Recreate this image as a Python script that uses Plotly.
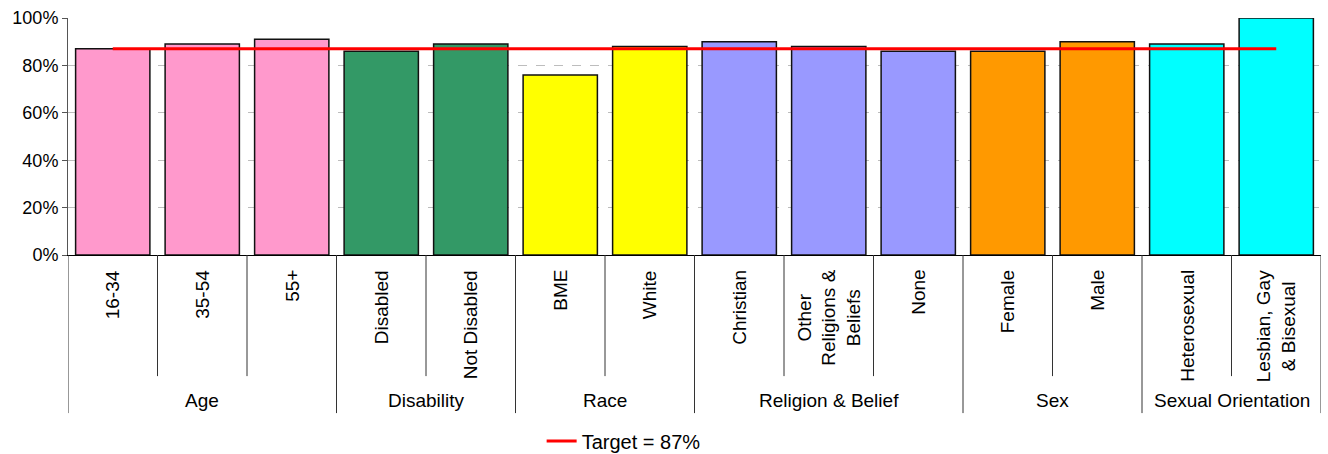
import plotly.graph_objects as go

# Survey results by equality group
groups = ["Age", "Disability", "Race", "Religion & Belief", "Sex", "Sexual Orientation"]
group_sizes = [3, 2, 2, 3, 2, 2]
group_colors = ["#FF99CC", "#339966", "#FFFF00", "#9999FF", "#FF9900", "#00FFFF"]

categories = ["16-34", "35-54", "55+",
              "Disabled", "Not Disabled",
              "BME", "White",
              "Christian", "Other<br>Religions &<br>Beliefs", "None",
              "Female", "Male",
              "Heterosexual", "Lesbian, Gay<br>& Bisexual"]
values = [0.87, 0.89, 0.91,
          0.86, 0.89,
          0.76, 0.88,
          0.90, 0.88, 0.86,
          0.86, 0.90,
          0.89, 1.00]
target = 0.87
target_label = "Target = 87%"

FONT = "Liberation Sans, Arial, sans-serif"

xs = list(range(len(categories)))
bar_colors = []
for color, size in zip(group_colors, group_sizes):
    bar_colors += [color] * size

fig = go.Figure()
fig.add_trace(go.Bar(
    x=xs, y=values, width=0.83,
    marker=dict(color=bar_colors, line=dict(color="#111111", width=1.5)),
    showlegend=False, hoverinfo="y",
))
fig.add_trace(go.Scatter(
    x=xs, y=[target] * len(xs), mode="lines",
    line=dict(color="#FF0000", width=3),
    name=target_label, showlegend=True,
))

annotations = []
shapes = []

# Category labels, rotated, under each bar
for i, lab in enumerate(categories):
    annotations.append(dict(
        x=i, xref="x", y=-0.055, yref="paper",
        text=lab, textangle=-90, showarrow=False,
        xanchor="center", yanchor="top", align="center",
        font=dict(family=FONT, size=19, color="#000000"),
    ))

# Group labels and divider lines
start = 0
boundaries = {-0.5}
for g, size in zip(groups, group_sizes):
    annotations.append(dict(
        x=start + (size - 1) / 2, xref="x", y=-0.616, yref="paper",
        text=g, showarrow=False, xanchor="center", yanchor="middle",
        font=dict(family=FONT, size=19, color="#000000"),
    ))
    start += size
    boundaries.add(start - 0.5)

for k in range(len(categories) + 1):
    xb = k - 0.5
    bottom = -0.667 if xb in boundaries else -0.511
    shapes.append(dict(
        type="line", xref="x", yref="paper",
        x0=xb, x1=xb, y0=0, y1=bottom,
        line=dict(color="#333333", width=1),
    ))

fig.update_layout(
    width=1328, height=454,
    margin=dict(l=68, r=7, t=18, b=199, autoexpand=False),
    paper_bgcolor="white", plot_bgcolor="white",
    font=dict(family=FONT, size=18, color="#000000"),
    bargap=0.17,
    xaxis=dict(
        range=[-0.5, len(categories) - 0.5],
        showticklabels=False, ticks="", showgrid=False, zeroline=False,
        showline=True, linecolor="#000000", linewidth=1,
        fixedrange=True,
    ),
    yaxis=dict(
        range=[0, 1], tickvals=[0, 0.2, 0.4, 0.6, 0.8, 1.0],
        tickformat=".0%", ticks="outside", ticklen=5, tickcolor="#555555",
        showline=True, linecolor="#555555", linewidth=1,
        showgrid=True, gridcolor="#BDBDBD", griddash="dash", gridwidth=1,
        zeroline=False, fixedrange=True,
        tickfont=dict(family=FONT, size=18, color="#000000"),
    ),
    legend=dict(
        orientation="h", x=0.378, xanchor="left",
        y=-0.785, yanchor="middle",
        font=dict(family=FONT, size=20, color="#000000"),
        bgcolor="rgba(0,0,0,0)",
    ),
    annotations=annotations,
    shapes=shapes,
)

fig.write_html("out.html")
